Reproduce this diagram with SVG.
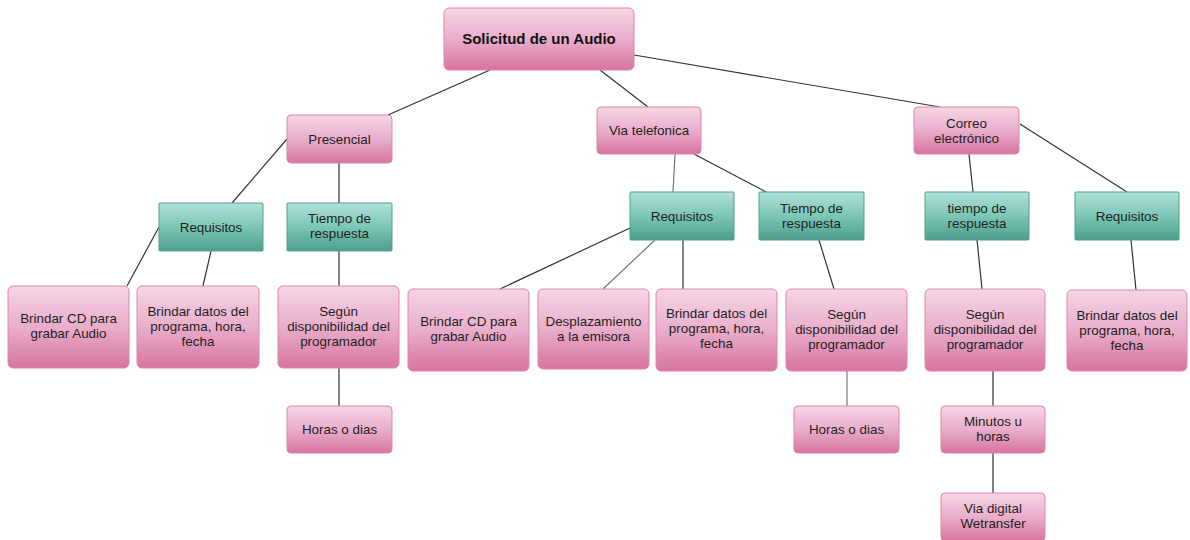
<svg xmlns="http://www.w3.org/2000/svg" width="1190" height="540" viewBox="0 0 1190 540">
<defs>
<linearGradient id="pk" x1="0" y1="0" x2="0" y2="1">
<stop offset="0" stop-color="#f6d6e6"/>
<stop offset="0.5" stop-color="#e9aecb"/>
<stop offset="1" stop-color="#d8749f"/>
</linearGradient>
<linearGradient id="tl" x1="0" y1="0" x2="0" y2="1">
<stop offset="0" stop-color="#b1e1d8"/>
<stop offset="0.5" stop-color="#7cc6b6"/>
<stop offset="1" stop-color="#4d9f8c"/>
</linearGradient>
<style>
.p{fill:url(#pk);stroke:#dd86ad;stroke-width:1}
.t{fill:url(#tl);stroke:#4f9f8c;stroke-width:1}
text{font-family:"Liberation Sans",Arial,sans-serif;font-size:13.4px;fill:#1e1e1e;text-anchor:middle}
.b{font-weight:bold;font-size:15px;fill:#111}
.c line{stroke:#333;stroke-width:1.2}
.c line.g{stroke:#777}
</style>
</defs>
<rect width="1190" height="540" fill="#ffffff"/>
<g class="c" id="connectors">
<line x1="490" y1="70" x2="388" y2="115"/>
<line x1="600" y1="70" x2="648" y2="107"/>
<line x1="634" y1="55" x2="940" y2="107"/>
<line x1="287" y1="139" x2="232" y2="203"/>
<line x1="339" y1="163" x2="339" y2="203"/>
<line x1="159" y1="227" x2="127" y2="286"/>
<line x1="211" y1="251" x2="203" y2="286"/>
<line x1="339" y1="251" x2="339" y2="286"/>
<line x1="339" y1="368" x2="339" y2="406"/>
<line x1="675" y1="154" x2="673" y2="192" class="g"/>
<line x1="694" y1="154" x2="766" y2="192"/>
<line x1="630" y1="228" x2="500" y2="289"/>
<line x1="655" y1="240" x2="603" y2="289" class="g"/>
<line x1="683" y1="240" x2="683" y2="289"/>
<line x1="819" y1="240" x2="834" y2="289"/>
<line x1="847" y1="371" x2="847" y2="406" class="g"/>
<line x1="969" y1="154" x2="973" y2="192"/>
<line x1="1020" y1="124" x2="1127" y2="192"/>
<line x1="977" y1="240" x2="982" y2="289"/>
<line x1="1131" y1="240" x2="1136" y2="290"/>
<line x1="993" y1="371" x2="993" y2="406"/>
<line x1="993" y1="453" x2="993" y2="493"/>
</g>
<g id="root"><rect class="p" x="444" y="8" width="190" height="62" rx="5"/><text class="b" x="539" y="44">Solicitud de un Audio</text></g>
<g id="presencial"><rect class="p" x="287" y="115" width="105" height="48" rx="4"/><text x="339.5" y="144">Presencial</text></g>
<g id="req1"><rect class="t" x="159" y="203" width="104" height="48" rx="1"/><text x="211" y="232">Requisitos</text></g>
<g id="tiempo1"><rect class="t" x="287" y="203" width="105" height="48" rx="1"/><text x="339.5" y="223">Tiempo de</text><text x="339.5" y="238">respuesta</text></g>
<g id="cd1"><rect class="p" x="8" y="286" width="121" height="82" rx="5"/><text x="68.5" y="323">Brindar CD para</text><text x="68.5" y="338">grabar Audio</text></g>
<g id="datos1"><rect class="p" x="137" y="286" width="122" height="82" rx="5"/><text x="198" y="316">Brindar datos del</text><text x="198" y="331">programa, hora,</text><text x="198" y="346">fecha</text></g>
<g id="segun1"><rect class="p" x="278" y="286" width="121" height="82" rx="5"/><text x="338.5" y="316">Según</text><text x="338.5" y="331">disponibilidad del</text><text x="338.5" y="346">programador</text></g>
<g id="horas1"><rect class="p" x="287" y="406" width="105" height="47" rx="4"/><text x="339.5" y="434">Horas o dias</text></g>
<g id="telefonica"><rect class="p" x="597" y="107" width="104" height="47" rx="4"/><text x="649" y="135">Via telefonica</text></g>
<g id="req2"><rect class="t" x="630" y="192" width="104" height="48" rx="1"/><text x="682" y="221">Requisitos</text></g>
<g id="tiempo2"><rect class="t" x="759" y="192" width="105" height="48" rx="1"/><text x="811.5" y="213">Tiempo de</text><text x="811.5" y="228">respuesta</text></g>
<g id="cd2"><rect class="p" x="408" y="289" width="121" height="82" rx="5"/><text x="468.5" y="326">Brindar CD para</text><text x="468.5" y="341">grabar Audio</text></g>
<g id="desplaz"><rect class="p" x="538" y="289" width="111" height="80" rx="5"/><text x="593.5" y="326">Desplazamiento</text><text x="593.5" y="341">a la emisora</text></g>
<g id="datos2"><rect class="p" x="656" y="289" width="121" height="82" rx="5"/><text x="716.5" y="318">Brindar datos del</text><text x="716.5" y="333">programa, hora,</text><text x="716.5" y="348">fecha</text></g>
<g id="segun2"><rect class="p" x="786" y="289" width="121" height="82" rx="5"/><text x="846.5" y="319">Según</text><text x="846.5" y="334">disponibilidad del</text><text x="846.5" y="349">programador</text></g>
<g id="horas2"><rect class="p" x="794" y="406" width="105" height="47" rx="4"/><text x="846.5" y="434">Horas o dias</text></g>
<g id="correo"><rect class="p" x="914" y="107" width="105" height="47" rx="4"/><text x="966.5" y="128">Correo</text><text x="966.5" y="143">electrónico</text></g>
<g id="tiempo3"><rect class="t" x="925" y="192" width="104" height="48" rx="1"/><text x="977" y="213">tiempo de</text><text x="977" y="228">respuesta</text></g>
<g id="req3"><rect class="t" x="1075" y="192" width="104" height="48" rx="1"/><text x="1127" y="221">Requisitos</text></g>
<g id="segun3"><rect class="p" x="925" y="289" width="120" height="82" rx="5"/><text x="985" y="319">Según</text><text x="985" y="334">disponibilidad del</text><text x="985" y="349">programador</text></g>
<g id="datos3"><rect class="p" x="1067" y="290" width="120" height="81" rx="5"/><text x="1127" y="320">Brindar datos del</text><text x="1127" y="335">programa, hora,</text><text x="1127" y="350">fecha</text></g>
<g id="minutos"><rect class="p" x="941" y="406" width="104" height="47" rx="4"/><text x="993" y="426">Minutos u</text><text x="993" y="441">horas</text></g>
<g id="wetransfer"><rect class="p" x="941" y="493" width="104" height="48" rx="4"/><text x="993" y="513">Via digital</text><text x="993" y="528">Wetransfer</text></g>
</svg>
